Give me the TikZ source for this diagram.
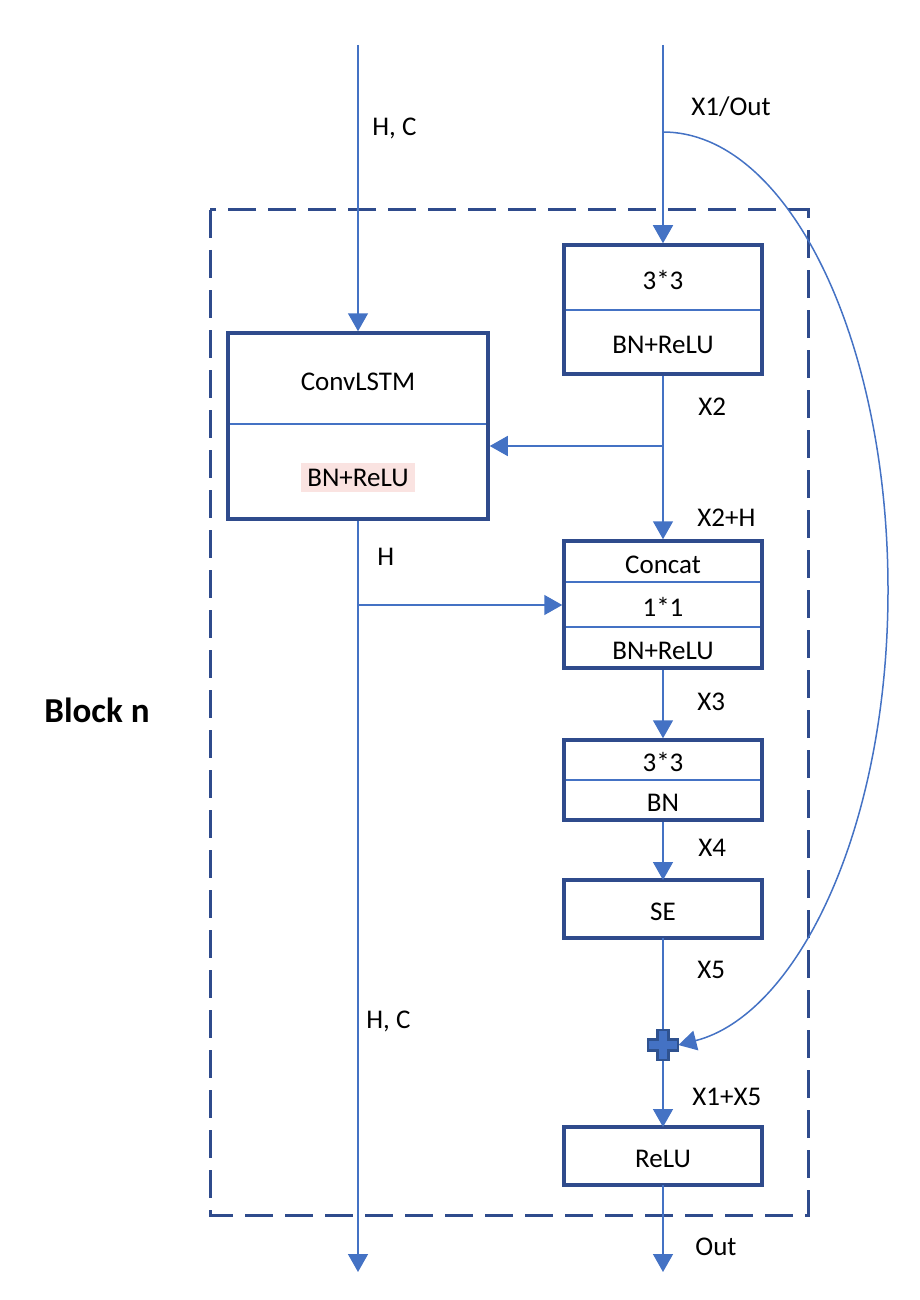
\documentclass[tikz,border=0pt]{standalone}
\usepackage{fontspec}
\setmainfont{Carlito}
\usepackage{tikz}
\usetikzlibrary{arrows.meta,positioning,fit}
\definecolor{frameblue}{HTML}{2F4B8C}
\definecolor{lineblue}{HTML}{4472C4}
\definecolor{plusedge}{HTML}{2F528F}
\definecolor{bnpink}{HTML}{FAE3E1}
\newcommand{\LBL}[0]{\fontsize{13.5}{16}\selectfont}

\begin{document}
\begin{tikzpicture}[x=0.5pt, y=-0.5pt,
  sec/.style={minimum width=99pt, inner sep=0pt, outer sep=0pt, font=\LBL,
    text height=11.5pt, text depth=0pt},
  boxframe/.style={draw=frameblue, line width=1.75pt, inner sep=0pt},
  divline/.style={draw=lineblue, line width=0.75pt},
  wire/.style={draw=lineblue, line width=0.75pt},
  arr/.style={wire, -{Triangle[width=10pt,length=9pt]}},
  lbl/.style={font=\LBL, anchor=west, inner sep=0pt}]

  \useasboundingbox (0,0) rectangle (920,1300);

  %% block frame
  \draw[draw=frameblue, line width=1.5pt, dash pattern=on 14pt off 6pt]
  (210,210) rectangle (808,1215);
  \node[font=\fontsize{17.5}{20}\selectfont\bfseries] (blk) at (97,710) {Block n};

  %% ConvLSTM
  \node[sec, minimum width=130pt, minimum height=45.5pt, anchor=north] (lstma) at (358,333) {ConvLSTM};
  \node[sec, minimum width=130pt, minimum height=47.5pt, below=0pt of lstma] (lstmb) {};
  \node[fill=bnpink, font=\LBL, inner xsep=3pt, inner ysep=3pt] (bnhl) at ([yshift=-3pt]lstmb) {BN+ReLU};
  \draw[divline] (lstma.south west) -- (lstma.south east);
  \node[boxframe, fit=(lstma)(lstmb)] (lstm) {};

  %% 3*3 + BN+ReLU
  \node[sec, minimum height=32.5pt, anchor=north] (k1a) at (663,245) {3*3};
  \node[sec, minimum height=32pt, below=0pt of k1a] (k1b) {BN+ReLU};
  \draw[divline] (k1a.south west) -- (k1a.south east);
  \node[boxframe, fit=(k1a)(k1b)] (k1) {};

  %% Concat
  \node[sec, minimum height=20.5pt, anchor=north] (cca) at (663,541) {Concat};
  \node[sec, minimum height=22.5pt, below=0pt of cca] (ccb) {1*1};
  \node[sec, minimum height=20.5pt, below=0pt of ccb] (ccc) {BN+ReLU};
  \draw[divline] (cca.south west) -- (cca.south east);
  \draw[divline] (ccb.south west) -- (ccb.south east);
  \node[boxframe, fit=(cca)(ccc)] (cc) {};

  %% 3*3 + BN
  \node[sec, minimum height=20pt, anchor=north] (k3a) at (663,740) {3*3};
  \node[sec, minimum height=20pt, below=0pt of k3a] (k3b) {BN};
  \draw[divline] (k3a.south west) -- (k3a.south east);
  \node[boxframe, fit=(k3a)(k3b)] (k3) {};

  \node[sec, boxframe, minimum height=29pt, anchor=north] (se) at (663,880) {SE};
  \node[sec, boxframe, minimum height=29pt, anchor=north] (relu) at (663,1127) {ReLU};

  \node[minimum size=15pt, inner sep=0pt] (plus) at (663,1045) {};

  \coordinate (inL) at (358,45);
  \coordinate (inR) at (663,45);
  \coordinate (outL) at (358,1272);
  \coordinate (outR) at (663,1272);
  \coordinate (skip) at (663,132);
  \coordinate (x2tap) at (663,446);
  \coordinate (htap) at (358,605);

  %% connectors
  \draw[arr] (inL) -- (lstm.north);
  \draw[arr] (inR) -- (k1.north);
  \draw[arr] (k1.south) -- (cc.north);
  \draw[arr] (x2tap) -- (x2tap -| lstm.east);
  \draw[arr] (lstm.south) -- (outL);
  \draw[arr] (htap) -- (htap -| cc.west);
  \draw[arr] (cc.south) -- (k3.north);
  \draw[arr] (k3.south) -- (se.north);
  \draw[wire] (se.south) -- (plus.center);
  \draw[arr] (plus.south) -- (relu.north);
  \draw[arr] (relu.south) -- (outR);

  %% skip connection
  \draw[arr] (skip) .. controls (787,132) and (888,337) .. (888,590)
  .. controls (888,831) and (796,1015) .. (plus.east);

  %% the add sign
  \begin{scope}[shift={(plus)}]
    \filldraw[fill=lineblue, draw=plusedge, line width=1.2pt]
    (-5.5,-15) -- (5.5,-15) -- (5.5,-5.5) -- (15,-5.5) -- (15,5.5) -- (5.5,5.5)
    -- (5.5,15) -- (-5.5,15) -- (-5.5,5.5) -- (-15,5.5) -- (-15,-5.5) -- (-5.5,-5.5) -- cycle;
  \end{scope}

  %% labels
  \node[lbl] (lhc1) at (372,128) {H, C};
  \node[lbl] (lx1) at (691,107) {X1/Out};
  \node[lbl] (lx2) at (698,407) {X2};
  \node[lbl] (lx2h) at (697,518) {X2+H};
  \node[lbl] (lh) at (377,557) {H};
  \node[lbl] (lx3) at (697,702) {X3};
  \node[lbl] (lx4) at (698,848) {X4};
  \node[lbl] (lx5) at (697,970) {X5};
  \node[lbl] (lhc2) at (366,1021) {H, C};
  \node[lbl] (lx15) at (692,1097) {X1+X5};
  \node[lbl] (lout) at (695,1247) {Out};

\end{tikzpicture}
\end{document}
